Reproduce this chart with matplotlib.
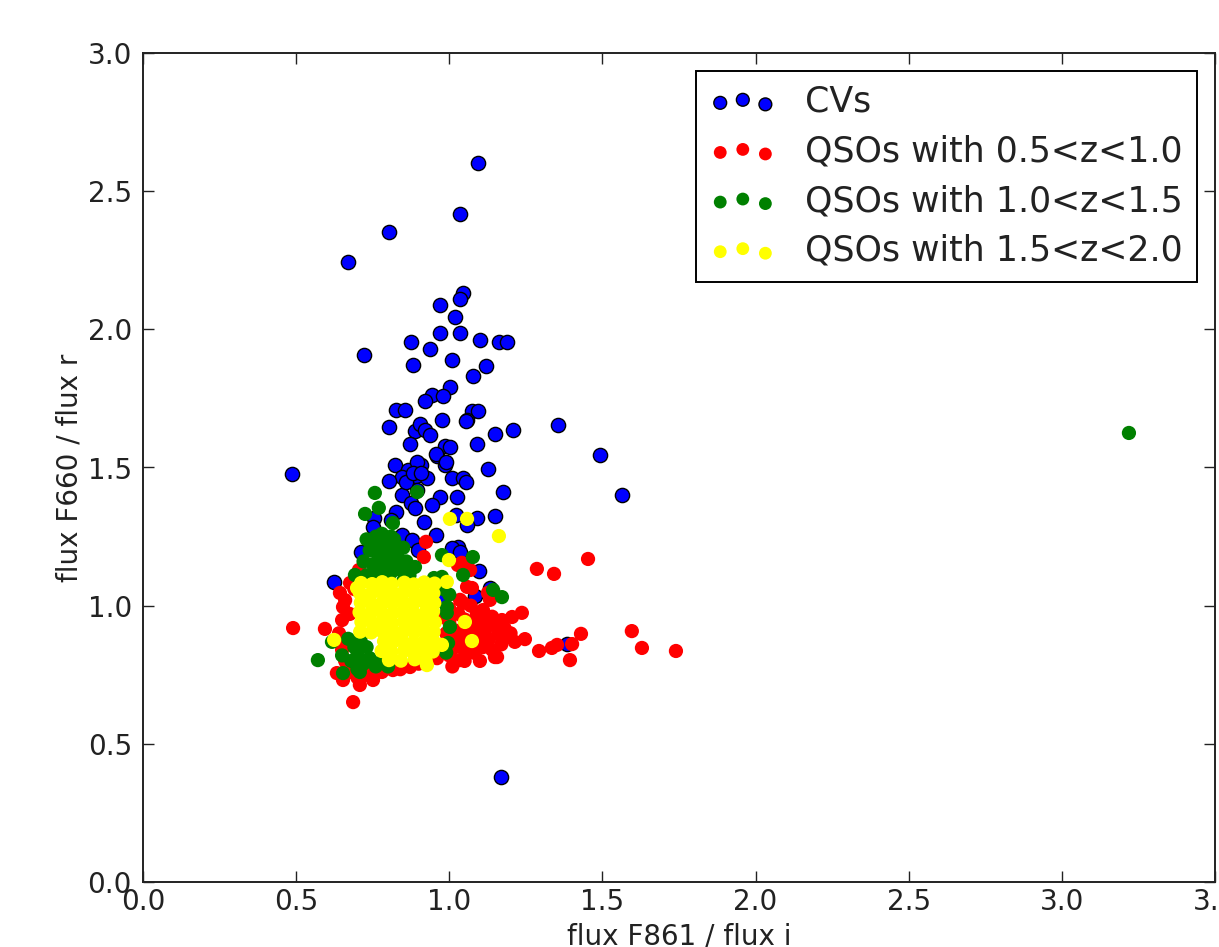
import matplotlib
matplotlib.use("Agg")
import matplotlib.pyplot as plt

# CVs (blue, black edge)
cv_x = [0.486, 0.669, 0.803, 0.722, 1.094, 1.035, 1.045, 1.035, 0.970, 1.019,
        1.035, 0.970, 1.100, 1.162, 1.188, 0.875, 0.937, 1.009, 0.881, 1.120,
        1.077, 1.002, 0.944, 0.979, 0.921, 1.074, 1.094, 0.826, 0.855, 0.976,
        1.058, 1.355, 0.803, 0.888, 0.904, 0.921, 0.937, 1.149, 1.208, 1.090,
        0.872, 0.986, 1.002, 0.960, 0.908, 1.492, 0.823, 0.865, 0.986, 1.126,
        0.845, 0.891, 0.927, 1.009, 1.045, 1.175, 1.564, 0.846, 0.894, 0.970,
        1.025, 0.875, 0.944, 0.826, 0.754, 1.022, 0.888, 1.090, 1.149, 0.751,
        0.810, 1.058, 0.917, 0.845, 0.956, 1.028, 1.009, 0.712, 0.878, 0.898,
        0.839, 1.097, 0.624, 1.133, 1.084, 1.169, 1.384, 0.976, 1.035, 0.790,
        0.957, 0.895, 0.859, 0.803, 0.882, 0.908, 1.055, 1.055, 0.989]
cv_y = [1.477, 2.244, 2.352, 1.907, 2.602, 2.418, 2.132, 2.110, 2.088, 2.045,
        1.987, 1.987, 1.962, 1.954, 1.954, 1.954, 1.929, 1.889, 1.871, 1.867,
        1.831, 1.791, 1.763, 1.759, 1.741, 1.705, 1.705, 1.708, 1.708, 1.672,
        1.672, 1.654, 1.647, 1.632, 1.658, 1.636, 1.618, 1.621, 1.636, 1.585,
        1.585, 1.578, 1.574, 1.542, 1.509, 1.545, 1.509, 1.491, 1.509, 1.495,
        1.466, 1.469, 1.462, 1.462, 1.462, 1.412, 1.401, 1.401, 1.419, 1.393,
        1.393, 1.372, 1.364, 1.339, 1.317, 1.328, 1.354, 1.317, 1.325, 1.285,
        1.310, 1.292, 1.303, 1.256, 1.256, 1.212, 1.209, 1.194, 1.238, 1.202,
        1.136, 1.126, 1.086, 1.064, 1.035, 0.380, 0.861, 1.021, 1.194, 1.230,
        1.550, 1.520, 1.448, 1.451, 1.480, 1.480, 1.448, 1.668, 1.520]

# QSOs 0.5<z<1.0 (red)
q1_x = [0.490, 0.594, 0.686, 1.286, 1.342, 1.453, 1.596, 1.629, 1.740, 1.430,
        1.401, 1.352, 1.394, 1.293, 1.335, 1.237, 1.205, 1.172, 1.247, 1.214,
        1.149, 1.035, 1.074, 1.126, 1.133, 1.035, 1.058, 0.924, 0.917, 1.041,
        1.061, 0.705, 0.676, 1.045, 1.028, 1.068,
        0.643, 0.653, 0.650, 0.650, 0.633, 0.653, 0.708, 0.751, 0.660, 0.640,
        0.655, 0.665, 0.680, 0.690, 0.675, 0.660, 0.700, 0.730, 0.780, 0.816,
        0.872, 0.840, 0.900, 0.930,
        1.000, 1.020, 1.050, 1.080, 1.110, 1.140, 1.170, 1.190, 1.160, 1.130,
        1.100, 1.070, 1.040, 1.010, 0.990, 1.020, 1.060, 1.090, 1.120, 1.150,
        1.180, 1.200, 1.110, 1.080, 1.050, 1.000, 1.030, 1.090, 1.140, 1.070,
        1.000, 0.980, 0.980, 1.010, 1.050, 1.100, 0.960, 1.156, 1.110]
q1_y = [0.919, 0.916, 0.651, 1.133, 1.115, 1.169, 0.908, 0.847, 0.836, 0.898,
        0.861, 0.858, 0.803, 0.836, 0.847, 0.974, 0.959, 0.948, 0.879, 0.869,
        0.814, 0.803, 1.064, 1.046, 1.021, 1.021, 1.068, 1.231, 1.176, 1.155,
        1.136, 1.129, 1.082, 1.010, 1.147, 1.129,
        1.046, 0.995, 0.948, 0.840, 0.756, 0.731, 0.713, 0.731, 1.020, 0.900,
        0.870, 0.790, 0.760, 1.060, 0.970, 0.800, 0.740, 0.750, 0.760, 0.767,
        0.778, 0.770, 0.790, 0.800,
        0.820, 0.850, 0.840, 0.830, 0.850, 0.840, 0.860, 0.890, 0.900, 0.880,
        0.880, 0.870, 0.880, 0.870, 0.900, 0.910, 0.910, 0.910, 0.920, 0.930,
        0.920, 0.900, 0.950, 0.940, 0.950, 0.940, 0.970, 0.970, 0.960, 1.000,
        0.990, 0.960, 0.840, 0.780, 0.800, 0.800, 0.810, 0.814, 0.984]

# QSOs 1.0<z<1.5 (green)
q2_x = [3.219, 0.571, 0.653, 0.708, 0.757, 0.725, 0.770, 0.895, 0.816, 0.888,
        0.976, 1.077, 1.143, 1.172, 1.045, 0.976, 0.992, 1.002, 0.996, 0.992,
        0.617, 0.692,
        0.730, 0.760, 0.790, 0.820, 0.850, 0.740, 0.770, 0.800, 0.830, 0.860,
        0.750, 0.780, 0.810, 0.840, 0.870, 0.730, 0.760, 0.800, 0.850, 0.720,
        0.745, 0.775, 0.805, 0.835, 0.790, 0.820, 0.765, 0.855, 0.780, 0.810,
        0.670, 0.690, 0.680, 0.700, 0.720, 0.740, 0.760, 0.780, 0.710, 0.700,
        0.650, 0.730, 0.800, 0.980, 0.950, 0.990, 1.000]
q2_y = [1.625, 0.803, 0.756, 0.760, 1.408, 1.332, 1.354, 1.411, 1.299, 1.140,
        1.183, 1.176, 1.057, 1.031, 1.111, 1.104, 0.995, 0.923, 0.865, 0.974,
        0.869, 1.111,
        1.240, 1.250, 1.220, 1.240, 1.210, 1.200, 1.180, 1.170, 1.180, 1.160,
        1.150, 1.130, 1.120, 1.130, 1.110, 1.110, 1.100, 1.090, 1.090, 1.160,
        1.225, 1.210, 1.200, 1.210, 1.150, 1.150, 1.130, 1.140, 1.260, 1.250,
        0.880, 0.850, 0.800, 0.820, 0.790, 0.810, 0.780, 0.800, 0.880, 0.770,
        0.820, 0.850, 0.780, 1.060, 1.100, 0.830, 1.040]

# QSOs 1.5<z<2.0 (yellow)
q3_x = [1.002, 1.058, 1.162, 0.999, 0.992, 1.051, 1.074, 0.624, 0.927, 0.699,
        0.976,
        0.712, 0.748, 0.781, 0.812, 0.853, 0.884, 0.918, 0.952,
        0.708, 0.744, 0.779, 0.817, 0.849, 0.887, 0.921, 0.948,
        0.711, 0.746, 0.783, 0.814, 0.851, 0.882, 0.917, 0.951,
        0.707, 0.742, 0.778, 0.816, 0.848, 0.886, 0.922, 0.947,
        0.713, 0.749, 0.782, 0.813, 0.852, 0.883, 0.919, 0.953,
        0.709, 0.745, 0.780, 0.818, 0.850, 0.885, 0.916, 0.949,
        0.787, 0.815, 0.847, 0.884, 0.920, 0.950,
        0.779, 0.811, 0.853, 0.881, 0.918, 0.946,
        0.803, 0.842, 0.887, 0.923]
q3_y = [1.314, 1.314, 1.252, 1.165, 1.086, 0.941, 0.872, 0.876, 0.785, 1.064,
        0.858,
        1.082, 1.078, 1.085, 1.079, 1.083, 1.077, 1.084, 1.080,
        1.046, 1.043, 1.049, 1.044, 1.047, 1.042, 1.048, 1.045,
        1.011, 1.008, 1.013, 1.009, 1.012, 1.007, 1.014, 1.010,
        0.976, 0.972, 0.978, 0.973, 0.977, 0.971, 0.975, 0.979,
        0.941, 0.938, 0.943, 0.937, 0.942, 0.939, 0.944, 0.940,
        0.906, 0.903, 0.908, 0.902, 0.907, 0.904, 0.909, 0.905,
        0.871, 0.868, 0.873, 0.867, 0.872, 0.869,
        0.836, 0.833, 0.838, 0.832, 0.837, 0.834,
        0.803, 0.801, 0.806, 0.800]

labels = ["CVs", "QSOs with 0.5<z<1.0", "QSOs with 1.0<z<1.5", "QSOs with 1.5<z<2.0"]

plt.rcParams['font.family'] = 'DejaVu Sans'

fig = plt.figure(figsize=(12.19, 9.47), dpi=100)
ax = fig.add_axes([143 / 1219, 65 / 947, 1072 / 1219, 829 / 947])

ax.scatter(cv_x, cv_y, s=105, c='#0000ff', edgecolors='k', linewidths=1.0, label=labels[0], zorder=2)
ax.scatter(q1_x, q1_y, s=105, c='#ff0000', edgecolors='none', label=labels[1], zorder=3)
ax.scatter(q2_x, q2_y, s=105, c='#008000', edgecolors='none', label=labels[2], zorder=4)
ax.scatter(q3_x, q3_y, s=105, c='#ffff00', edgecolors='none', label=labels[3], zorder=5)

ax.set_xlim(0, 3.5)
ax.set_ylim(0, 3.0)
ax.set_xticks([0.0, 0.5, 1.0, 1.5, 2.0, 2.5, 3.0, 3.5])
ax.set_yticks([0.0, 0.5, 1.0, 1.5, 2.0, 2.5, 3.0])
ax.tick_params(direction='in', top=True, right=True, length=8, width=1, labelsize=20, colors='#222222')
ax.tick_params(axis='x', pad=4)
ax.tick_params(axis='y', pad=8)
for sp in ax.spines.values():
    sp.set_linewidth(1.4)
    sp.set_color('#222222')

ax.set_xlabel("flux F861 / flux i", fontsize=20, color='#222222', labelpad=5)
ax.set_ylabel("flux F660 / flux r", fontsize=20, color='#222222', labelpad=3)

leg = ax.legend(loc='upper right', scatterpoints=3, fontsize=25, fancybox=False,
                framealpha=1, edgecolor='k', markerscale=0.9, borderaxespad=0.52,
                handlelength=1.9, handletextpad=0.85, labelspacing=0.45)
leg.get_frame().set_linewidth(1.4)
for t in leg.get_texts():
    t.set_color('#222222')

fig.savefig("out.png", dpi=100)
